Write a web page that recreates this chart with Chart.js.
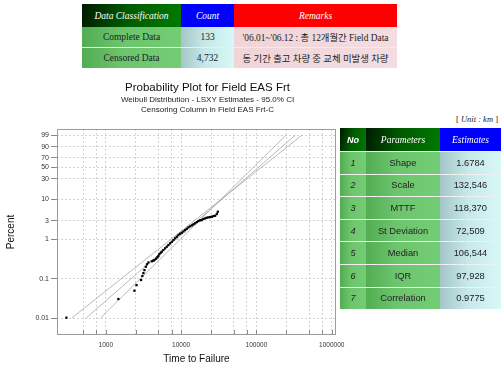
<!DOCTYPE html>
<html>
<head>
<meta charset="utf-8">
<script src="https://cdn.jsdelivr.net/npm/chart.js@4.4.1/dist/chart.umd.min.js"></script>
<style>
  html, body { margin: 0; padding: 0; background: #fff; }
  #page { position: relative; width: 501px; height: 365px; overflow: hidden; }
  #plot { position: absolute; left: 0; top: 75px; width: 415px; height: 290px; }
  table { border-collapse: collapse; position: absolute; z-index: 2; table-layout: fixed; }
  td, th { padding: 0; text-align: center; white-space: nowrap; overflow: hidden; }
  #summary { left: 82px; top: 4px; width: 315px; font-family: "Liberation Serif", "Times New Roman", serif; }
  #summary th { height: 23px; color: #fff; font-style: italic; font-weight: normal; font-size: 9.5px; }
  #summary td { height: 20px; font-size: 9.5px; color: #222; }
  #summary td.kr { font-size: 9.4px; font-family: "Liberation Serif", "Noto Sans CJK KR", serif; }
  .hg { background: linear-gradient(100deg, #001a00 0%, #005a00 45%, #007a00 100%); }
  .hb { background: #0000ff; }
  .hr { background: #ff0000; }
  .cg { background: linear-gradient(90deg, #52ad52 0%, #6cc46c 40%, #74cc74 100%); }
  .cc { background: linear-gradient(90deg, #a4c6c8 0%, #c6e8e8 45%, #d8f8f8 100%); }
  .cp { background: linear-gradient(90deg, #efd4d8 0%, #f4dce0 100%); }
  #summary tr + tr + tr td { border-top: 1px solid rgba(0,0,0,0.07); }
  #params { left: 340px; top: 128px; width: 161px; font-family: "Liberation Sans", Arial, sans-serif; }
  #params th { height: 23px; color: #fff; font-weight: normal; font-style: italic; font-size: 9.5px; font-family: "Liberation Serif", serif; }
  #params th.no { font-family: "Liberation Sans", sans-serif; font-weight: bold; font-size: 9px; }
  #params td { height: 21.6px; font-size: 9.3px; color: #222; border-top: 1px solid rgba(0,0,0,0.06); }
  #params td.no { font-style: italic; font-size: 9px; }
  #unit { position: absolute; right: 3px; top: 114px; font-family: "Liberation Serif", serif; font-size: 8.5px; color: #222; }
</style>
</head>
<body>
<div id="page">
  <table id="summary">
    <colgroup><col style="width:99px"><col style="width:53px"><col style="width:163px"></colgroup>
    <tbody id="summaryBody"></tbody>
  </table>
  <div id="unit">[ <i>Unit : km</i> ]</div>
  <table id="params">
    <colgroup><col style="width:26px"><col style="width:74px"><col style="width:61px"></colgroup>
    <tbody id="paramsBody"></tbody>
  </table>
  <div id="plot"><canvas id="chart" width="415" height="290"></canvas></div>
</div>
<script>
// summary table
const SUMMARY_HEAD = ["Data Classification", "Count", "Remarks"];
const SUMMARY_CLASS = ["Complete Data", "Censored Data"];
const SUMMARY_COUNT = ["133", "4,732"];
const SUMMARY_REMARK = ["'06.01~'06.12 : 총 12개월간 Field Data", "동 기간 출고 차량 중 교체 미발생 차량"];

// parameter table
const PARAM_HEAD = ["No", "Parameters", "Estimates"];
const PARAM_NAME = ["Shape", "Scale", "MTTF", "St Deviation", "Median", "IQR", "Correlation"];
const PARAM_VALUE = ["1.6784", "132,546", "118,370", "72,509", "106,544", "97,928", "0.9775"];

// failure points (time, cumulative percent)
const FAIL_TIME = [300, 1470, 2400, 2560, 2940, 3060, 3160, 3260, 3400, 3530, 3680, 4080, 4290, 4420,
  4660, 4840, 5000, 5150, 5370, 5540, 5820, 6130, 6450, 6780, 7140, 7530, 7910, 8330, 8770, 9200,
  9700, 10200, 10740, 11300, 11900, 12500, 13180, 13900, 14560, 15300, 16180, 17000, 17880, 18800,
  19770, 20800, 21930, 23100, 24270, 25600, 26850, 28300, 29800, 30700];
const FAIL_PCT = [0.0102, 0.0305, 0.0497, 0.069, 0.093, 0.118, 0.140, 0.167, 0.203, 0.234, 0.260, 0.279,
  0.289, 0.301, 0.325, 0.352, 0.380, 0.427, 0.462, 0.489, 0.541, 0.597, 0.656, 0.724, 0.800, 0.876,
  0.971, 1.07, 1.17, 1.30, 1.40, 1.48, 1.60, 1.73, 1.87, 2.03, 2.15, 2.28, 2.41, 2.56, 2.75, 2.92,
  3.04, 3.09, 3.28, 3.41, 3.53, 3.61, 3.68, 3.74, 3.89, 3.96, 4.37, 4.98];

// fitted line and 95% CI bounds (end points)
const LINE_PCT = [0.01, 99];
const FIT_TIME = [548, 329000];
const LOWER_TIME = [848, 248000];
const UPPER_TIME = [353, 405000];

// axis ticks
const X_TICKS = [500, 750, 1000, 2500, 5000, 7500, 10000, 25000, 50000, 75000, 100000,
  250000, 500000, 750000, 1000000];
const X_LABELED = [1000, 10000, 100000, 1000000];
const Y_TICKS = [0.01, 0.1, 1, 3, 10, 30, 50, 70, 90, 99];

// tables
const sb = document.getElementById('summaryBody');
sb.innerHTML = '<tr><th class="hg">' + SUMMARY_HEAD[0] + '</th><th class="hb">' + SUMMARY_HEAD[1] +
  '</th><th class="hr">' + SUMMARY_HEAD[2] + '</th></tr>' +
  SUMMARY_CLASS.map((c, i) => '<tr><td class="cg">' + c + '</td><td class="cc">' + SUMMARY_COUNT[i] +
    '</td><td class="cp kr">' + SUMMARY_REMARK[i] + '</td></tr>').join('');

const pb = document.getElementById('paramsBody');
pb.innerHTML = '<tr><th class="hg no">' + PARAM_HEAD[0] + '</th><th class="hg">' + PARAM_HEAD[1] +
  '</th><th class="hb">' + PARAM_HEAD[2] + '</th></tr>' +
  PARAM_NAME.map((n, i) => '<tr><td class="cg no">' + (i + 1) + '</td><td class="cg">' + n +
    '</td><td class="cc">' + PARAM_VALUE[i] + '</td></tr>').join('');

// weibull probability scale
const tf = p => Math.log(-Math.log(1 - p / 100));

class WeibullScale extends Chart.Scale {
  static id = 'weibull';
  static defaults = {};
  determineDataLimits() {
    this.min = this.options.min;
    this.max = this.options.max;
  }
  buildTicks() {
    return Y_TICKS.map(v => ({ value: v }));
  }
  configure() {
    super.configure();
    this._lo = tf(this.min);
    this._hi = tf(this.max);
  }
  getLabelForValue(v) {
    return String(v);
  }
  getPixelForValue(v) {
    return this.getPixelForDecimal((tf(v) - this._lo) / (this._hi - this._lo));
  }
  getValueForPixel(px) {
    const y = this._lo + this.getDecimalForPixel(px) * (this._hi - this._lo);
    return 100 * (1 - Math.exp(-Math.exp(y)));
  }
}
Chart.register(WeibullScale);

const pts = (xs, ys) => xs.map((x, i) => ({ x: x, y: ys[i] }));

const frame = {
  id: 'frame',
  beforeDatasetsDraw(chart) {
    const { ctx, chartArea: a } = chart;
    const xs = chart.scales.x;
    ctx.save();
    ctx.strokeStyle = '#8a8a8a';
    ctx.lineWidth = 1;
    ctx.beginPath();
    xs.ticks.forEach(t => {
      const px = Math.round(xs.getPixelForValue(t.value)) + 0.5;
      ctx.moveTo(px, a.bottom);
      ctx.lineTo(px, a.bottom - 5);
    });
    ctx.stroke();
    ctx.strokeStyle = '#9c9c9c';
    ctx.strokeRect(a.left + 0.5, a.top + 0.5, a.right - a.left - 1, a.bottom - a.top - 1);
    ctx.restore();
  }
};

const lineStyle = { showLine: true, pointRadius: 0, borderColor: '#a8a8a8', borderWidth: 0.8, fill: false };

new Chart(document.getElementById('chart'), {
  type: 'scatter',
  data: {
    datasets: [
      {
        label: 'Failures',
        data: pts(FAIL_TIME, FAIL_PCT),
        pointStyle: 'rect',
        pointRadius: 1.6,
        borderWidth: 0,
        backgroundColor: '#000'
      },
      Object.assign({ label: 'Fit', data: pts(FIT_TIME, LINE_PCT) }, lineStyle),
      Object.assign({ label: 'Lower', data: pts(LOWER_TIME, LINE_PCT) }, lineStyle),
      Object.assign({ label: 'Upper', data: pts(UPPER_TIME, LINE_PCT) }, lineStyle)
    ]
  },
  options: {
    responsive: false,
    animation: false,
    devicePixelRatio: 1,
    layout: { padding: 0 },
    plugins: {
      legend: { display: false },
      tooltip: { enabled: false },
      title: {
        display: true,
        text: 'Probability Plot for Field EAS Frt',
        color: '#111',
        font: { family: 'Liberation Sans, Arial, sans-serif', size: 11.5, weight: 'normal', lineHeight: 1.1 },
        padding: { top: 6.5, bottom: 0 }
      },
      subtitle: {
        display: true,
        text: ['Weibull Distribution - LSXY Estimates - 95.0% CI', 'Censoring Column in Field EAS Frt-C'],
        color: '#222',
        font: { family: 'Liberation Sans, Arial, sans-serif', size: 8, lineHeight: 1.34 },
        padding: { top: 0, bottom: 13.4 }
      }
    },
    scales: {
      x: {
        type: 'logarithmic',
        min: 225,
        max: 1140000,
        afterFit: s => { s.height = 30; },
        afterBuildTicks: s => { s.ticks = X_TICKS.map(v => ({ value: v })); },
        ticks: {
          autoSkip: false,
          maxRotation: 0,
          padding: 6,
          color: '#333',
          font: { family: 'Liberation Sans, Arial, sans-serif', size: 6.5 },
          callback: v => X_LABELED.includes(v) ? String(v) : ''
        },
        grid: { color: '#d2d2d2', drawTicks: false, lineWidth: 1 },
        border: { display: false, dash: [2, 2] },
        title: {
          display: true,
          text: 'Time to Failure',
          color: '#111',
          font: { family: 'Liberation Sans, Arial, sans-serif', size: 10 },
          padding: { top: 0, bottom: 0 }
        }
      },
      y: {
        type: 'weibull',
        min: 0.0037,
        max: 99.86,
        afterFit: s => { s.width = 57; },
        ticks: {
          padding: 2,
          color: '#333',
          font: { family: 'Liberation Sans, Arial, sans-serif', size: 7 }
        },
        grid: { color: '#d2d2d2', tickColor: '#8a8a8a', tickLength: 6, lineWidth: 1 },
        border: { display: false, dash: [2, 2] },
        title: {
          display: true,
          text: 'Percent',
          color: '#111',
          font: { family: 'Liberation Sans, Arial, sans-serif', size: 10 },
          padding: { top: 5, bottom: 0 }
        }
      },
      // empty right-hand axis that only reserves the space on the right of the plot
      spacer: {
        type: 'linear',
        position: 'right',
        afterFit: s => { s.width = 79; },
        ticks: { display: false },
        grid: { display: false, drawOnChartArea: false },
        border: { display: false }
      }
    }
  },
  plugins: [frame]
});
</script>
</body>
</html>
